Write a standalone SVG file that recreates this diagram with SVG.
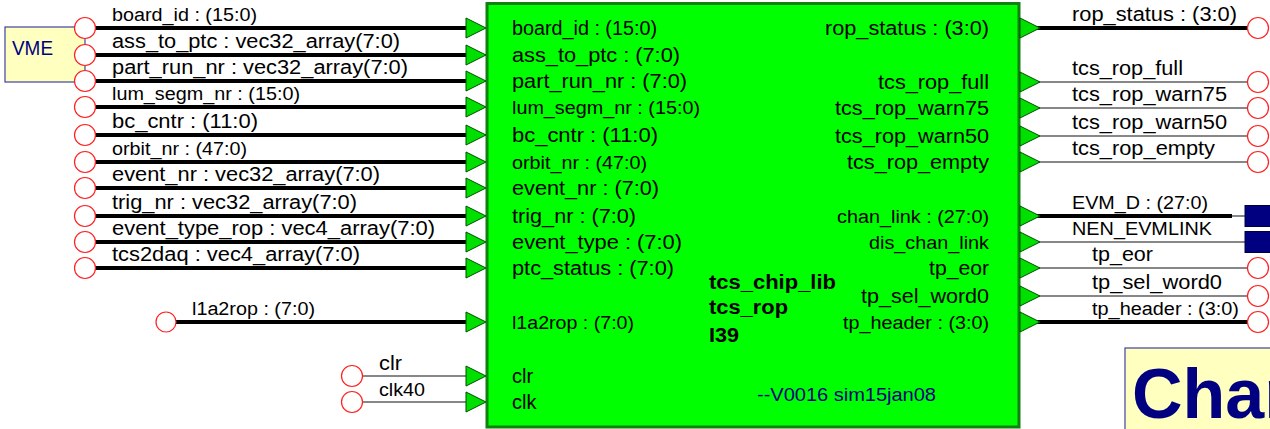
<svg xmlns="http://www.w3.org/2000/svg" width="1270" height="429" viewBox="0 0 1270 429">
<style>
text{font-family:"Liberation Sans",Arial,sans-serif;font-size:20px;fill:#000}
.sm{font-size:18px}
.r{text-anchor:end}
.b{font-weight:bold}
.navy{fill:#000080}
.bus{stroke:#000;stroke-width:4;fill:none}
.sig{stroke:#606060;stroke-width:1.5;fill:none}
.pin{fill:#fff;stroke:#ff2020;stroke-width:1.2}
.arr{fill:#00e000;stroke:#005000;stroke-width:1}
.note{fill:#ffffc0;stroke:#4040a0;stroke-width:1.2}
.hub{fill:#000080;stroke:#000040;stroke-width:1}
</style>
<rect width="1270" height="429" fill="#fff"/>

<g id="vme">
<rect class="note" x="5" y="27" width="80" height="55"/>
<text class="navy" x="12" y="55" textLength="41" lengthAdjust="spacingAndGlyphs">VME</text>
</g>

<g id="charbox">
<rect class="note" x="1125" y="348" width="160" height="100"/>
<text class="navy b" x="1132" y="418" style="font-size:70px">Char</text>
</g>

<g id="tcs_rop">
<rect x="487" y="3.5" width="532" height="423.5" fill="#00ff00" stroke="#108010" stroke-width="3"/>
<text x="512" y="35" textLength="145" lengthAdjust="spacingAndGlyphs">board_id : (15:0)</text>
<text x="512" y="62" textLength="168" lengthAdjust="spacingAndGlyphs">ass_to_ptc : (7:0)</text>
<text x="512" y="88" textLength="175" lengthAdjust="spacingAndGlyphs">part_run_nr : (7:0)</text>
<text class="sm" x="512" y="114" textLength="188" lengthAdjust="spacingAndGlyphs">lum_segm_nr : (15:0)</text>
<text x="512" y="142" textLength="146" lengthAdjust="spacingAndGlyphs">bc_cntr : (11:0)</text>
<text class="sm" x="512" y="169" textLength="135" lengthAdjust="spacingAndGlyphs">orbit_nr : (47:0)</text>
<text x="512" y="195" textLength="147" lengthAdjust="spacingAndGlyphs">event_nr : (7:0)</text>
<text x="512" y="223" textLength="124" lengthAdjust="spacingAndGlyphs">trig_nr : (7:0)</text>
<text x="512" y="249" textLength="170" lengthAdjust="spacingAndGlyphs">event_type : (7:0)</text>
<text x="512" y="275" textLength="162" lengthAdjust="spacingAndGlyphs">ptc_status : (7:0)</text>
<text class="sm" x="512" y="329" textLength="122" lengthAdjust="spacingAndGlyphs">l1a2rop : (7:0)</text>
<text x="512" y="383">clr</text>
<text x="512" y="409">clk</text>
<text class="r" x="989" y="35" textLength="164" lengthAdjust="spacingAndGlyphs">rop_status : (3:0)</text>
<text class="r" x="989" y="89" textLength="111" lengthAdjust="spacingAndGlyphs">tcs_rop_full</text>
<text class="r" x="989" y="115" textLength="154" lengthAdjust="spacingAndGlyphs">tcs_rop_warn75</text>
<text class="r" x="989" y="143" textLength="154" lengthAdjust="spacingAndGlyphs">tcs_rop_warn50</text>
<text class="r" x="989" y="169" textLength="142" lengthAdjust="spacingAndGlyphs">tcs_rop_empty</text>
<text class="r sm" x="989" y="223" textLength="152" lengthAdjust="spacingAndGlyphs">chan_link : (27:0)</text>
<text class="r sm" x="989" y="249" textLength="120" lengthAdjust="spacingAndGlyphs">dis_chan_link</text>
<text class="r" x="989" y="275" textLength="60" lengthAdjust="spacingAndGlyphs">tp_eor</text>
<text class="r" x="989" y="303" textLength="128" lengthAdjust="spacingAndGlyphs">tp_sel_word0</text>
<text class="r sm" x="989" y="329" textLength="146" lengthAdjust="spacingAndGlyphs">tp_header : (3:0)</text>
<text class="b" x="709" y="289" textLength="127" lengthAdjust="spacingAndGlyphs">tcs_chip_lib</text>
<text class="b" x="709" y="314" textLength="79" lengthAdjust="spacingAndGlyphs">tcs_rop</text>
<text class="b" x="709" y="342" textLength="30" lengthAdjust="spacingAndGlyphs">I39</text>
<text class="navy sm" x="757" y="401" textLength="179" lengthAdjust="spacingAndGlyphs">--V0016 sim15jan08</text>
</g>

<g id="connectors">
<path class="bus" d="M95 28H470M95 55H470M95 81H470M95 107H470M95 135H470M95 162H470M95 188H470M95 216H470M95 242H470M95 268H470M176 322H470"/>
<path class="sig" d="M362 376H470M362 402H470"/>
<path class="bus" d="M1036 28H1248M1036 216H1232M1036 322H1248"/>
<path class="sig" d="M1036 82H1248M1036 108H1248M1036 136H1248M1036 162H1248M1232 216H1245M1036 242H1245M1036 268H1248M1036 296H1248"/>
</g>

<g id="arrows">
<path class="arr" d="M466 18L486 28L466 38Z M466 45L486 55L466 65Z M466 71L486 81L466 91Z M466 97L486 107L466 117Z M466 125L486 135L466 145Z M466 152L486 162L466 172Z M466 178L486 188L466 198Z M466 206L486 216L466 226Z M466 232L486 242L466 252Z M466 258L486 268L466 278Z M466 312L486 322L466 332Z M466 366L486 376L466 386Z M466 392L486 402L466 412Z"/>
<path class="arr" d="M1020 18L1040 28L1020 38Z M1020 72L1040 82L1020 92Z M1020 98L1040 108L1020 118Z M1020 126L1040 136L1020 146Z M1020 152L1040 162L1020 172Z M1020 206L1040 216L1020 226Z M1020 232L1040 242L1020 252Z M1020 258L1040 268L1020 278Z M1020 286L1040 296L1020 306Z M1020 312L1040 322L1020 332Z"/>
</g>

<g id="in_ports">
<circle class="pin" cx="85" cy="28" r="10.5"/>
<circle class="pin" cx="85" cy="55" r="10.5"/>
<circle class="pin" cx="85" cy="81" r="10.5"/>
<circle class="pin" cx="85" cy="107" r="10.5"/>
<circle class="pin" cx="85" cy="135" r="10.5"/>
<circle class="pin" cx="85" cy="162" r="10.5"/>
<circle class="pin" cx="85" cy="188" r="10.5"/>
<circle class="pin" cx="85" cy="216" r="10.5"/>
<circle class="pin" cx="85" cy="242" r="10.5"/>
<circle class="pin" cx="85" cy="268" r="10.5"/>
<circle class="pin" cx="166" cy="322" r="10"/>
<circle class="pin" cx="352" cy="376" r="10.5"/>
<circle class="pin" cx="352" cy="402" r="10.5"/>
</g>

<g id="out_ports">
<circle class="pin" cx="1258" cy="28" r="10.5"/>
<circle class="pin" cx="1258" cy="82" r="10.5"/>
<circle class="pin" cx="1258" cy="108" r="10.5"/>
<circle class="pin" cx="1258" cy="136" r="10.5"/>
<circle class="pin" cx="1258" cy="162" r="10.5"/>
<circle class="pin" cx="1258" cy="268" r="10.5"/>
<circle class="pin" cx="1258" cy="296" r="10.5"/>
<circle class="pin" cx="1258" cy="322" r="10.5"/>
<rect class="hub" x="1245" y="205.5" width="30" height="21"/>
<rect class="hub" x="1245" y="231.5" width="30" height="21"/>
</g>

<g id="labels">
<text class="sm" x="112" y="21" textLength="145" lengthAdjust="spacingAndGlyphs">board_id : (15:0)</text>
<text x="112" y="48" textLength="288" lengthAdjust="spacingAndGlyphs">ass_to_ptc : vec32_array(7:0)</text>
<text x="112" y="74" textLength="296" lengthAdjust="spacingAndGlyphs">part_run_nr : vec32_array(7:0)</text>
<text class="sm" x="112" y="100" textLength="188" lengthAdjust="spacingAndGlyphs">lum_segm_nr : (15:0)</text>
<text x="112" y="128" textLength="146" lengthAdjust="spacingAndGlyphs">bc_cntr : (11:0)</text>
<text class="sm" x="112" y="155" textLength="135" lengthAdjust="spacingAndGlyphs">orbit_nr : (47:0)</text>
<text x="112" y="181" textLength="268" lengthAdjust="spacingAndGlyphs">event_nr : vec32_array(7:0)</text>
<text x="112" y="209" textLength="245" lengthAdjust="spacingAndGlyphs">trig_nr : vec32_array(7:0)</text>
<text x="112" y="235" textLength="323" lengthAdjust="spacingAndGlyphs">event_type_rop : vec4_array(7:0)</text>
<text x="112" y="261" textLength="248" lengthAdjust="spacingAndGlyphs">tcs2daq : vec4_array(7:0)</text>
<text class="sm" x="192" y="315" textLength="123" lengthAdjust="spacingAndGlyphs">l1a2rop : (7:0)</text>
<text x="379" y="370" textLength="23" lengthAdjust="spacingAndGlyphs">clr</text>
<text class="sm" x="379" y="396" textLength="46" lengthAdjust="spacingAndGlyphs">clk40</text>
<text x="1072" y="21" textLength="165" lengthAdjust="spacingAndGlyphs">rop_status : (3:0)</text>
<text x="1072" y="75" textLength="111" lengthAdjust="spacingAndGlyphs">tcs_rop_full</text>
<text x="1072" y="101" textLength="155" lengthAdjust="spacingAndGlyphs">tcs_rop_warn75</text>
<text x="1072" y="129" textLength="155" lengthAdjust="spacingAndGlyphs">tcs_rop_warn50</text>
<text x="1072" y="155" textLength="143" lengthAdjust="spacingAndGlyphs">tcs_rop_empty</text>
<text class="sm" x="1072" y="209" textLength="136" lengthAdjust="spacingAndGlyphs">EVM_D : (27:0)</text>
<text class="sm" x="1072" y="235" textLength="140" lengthAdjust="spacingAndGlyphs">NEN_EVMLINK</text>
<text x="1092" y="261" textLength="61" lengthAdjust="spacingAndGlyphs">tp_eor</text>
<text x="1092" y="289" textLength="130" lengthAdjust="spacingAndGlyphs">tp_sel_word0</text>
<text class="sm" x="1092" y="315" textLength="147" lengthAdjust="spacingAndGlyphs">tp_header : (3:0)</text>
</g>
</svg>
